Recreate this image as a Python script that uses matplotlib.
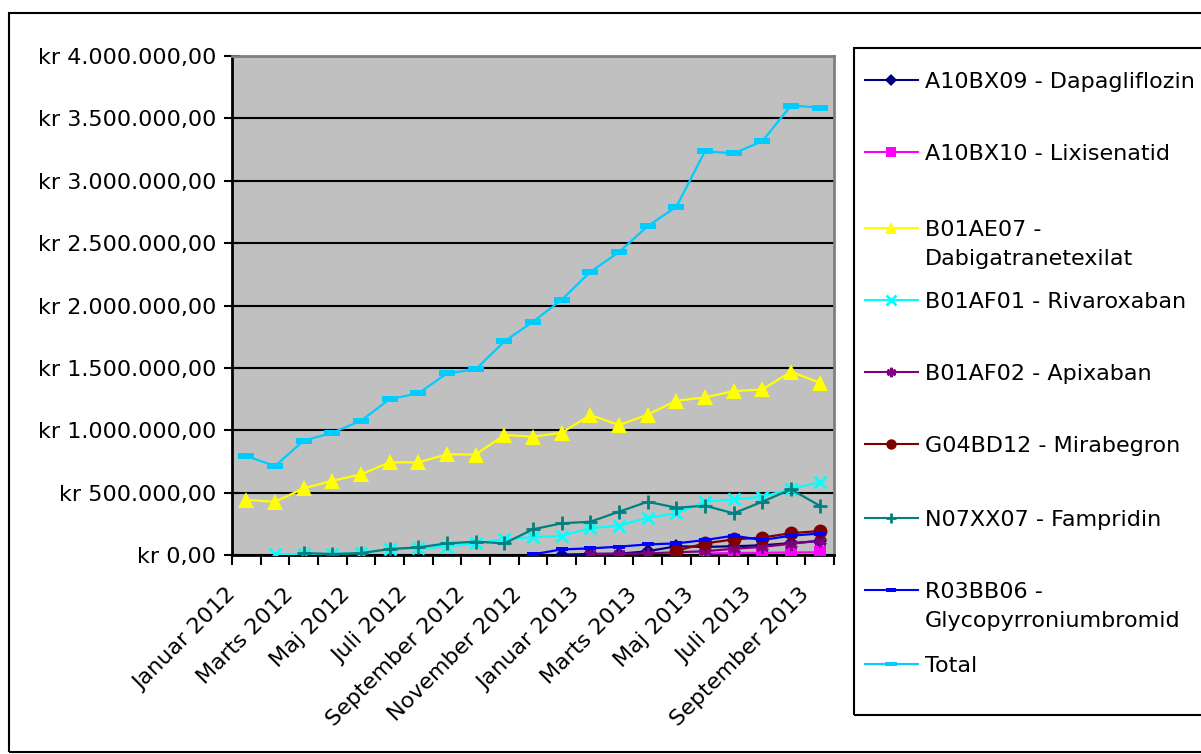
import matplotlib.pyplot as plt
import matplotlib.transforms as mtransforms
from matplotlib.lines import Line2D
from matplotlib.patches import Rectangle
from matplotlib.ticker import FuncFormatter

plt.rcParams['font.family'] = ['DejaVu Sans']

# --- data (kr per month, Januar 2012 .. September 2013) ---
months = ["Januar 2012", "Februar 2012", "Marts 2012", "April 2012", "Maj 2012",
          "Juni 2012", "Juli 2012", "August 2012", "September 2012", "Oktober 2012",
          "November 2012", "December 2012", "Januar 2013", "Februar 2013", "Marts 2013",
          "April 2013", "Maj 2013", "Juni 2013", "Juli 2013", "August 2013",
          "September 2013"]

N = None
dapagliflozin = [N] * 11 + [3000, 8000, 10000, 30000, 70000, 65000, 70000, 78000, 95000, 112000]
lixisenatid = [N] * 16 + [12000, 15000, 18000, 20000, 22000]
dabigatran = [441000, 427000, 534000, 595000, 646000, 743000, 743000, 807000, 805000,
              962000, 948000, 980000, 1122000, 1042000, 1125000, 1237000, 1263000,
              1314000, 1327000, 1469000, 1381000]
rivaroxaban = [N, 5000, 8000, 8000, 18000, 45000, 53000, 67000, 93000, 128000, 142000,
               155000, 214000, 235000, 299000, 334000, 427000, 446000, 467000, 529000, 585000]
apixaban = [N] * 12 + [8000, 10000, 12000, 22000, 30000, 50000, 65000, 90000, 115000]
mirabegron = [N] * 15 + [35000, 93000, 125000, 140000, 175000, 192000]
fampridin = [N, N, 15000, 8000, 15000, 48000, 61000, 93000, 107000, 93000, 206000,
             254000, 267000, 347000, 427000, 379000, 395000, 334000, 427000, 526000, 395000]
glycopyrronium = [N] * 10 + [5000, 45000, 53000, 67000, 85000, 93000, 120000, 155000,
                             120000, 155000, 172000]
total = [793000, 713000, 916000, 980000, 1076000, 1250000, 1296000, 1456000, 1488000,
         1712000, 1870000, 2046000, 2270000, 2428000, 2636000, 2791000, 3237000,
         3219000, 3317000, 3603000, 3587000]

labels = ["A10BX09 - Dapagliflozin", "A10BX10 - Lixisenatid",
          "B01AE07 -\nDabigatranetexilat", "B01AF01 - Rivaroxaban",
          "B01AF02 - Apixaban", "G04BD12 - Mirabegron", "N07XX07 - Fampridin",
          "R03BB06 -\nGlycopyrroniumbromid", "Total"]

rect = [(-1, -0.33), (1, -0.33), (1, 0.33), (-1, 0.33), (-1, -0.33)]
asterisk = (6, 2, 0)
series = [
    (dapagliflozin, dict(color="#000080", marker="D", ms=7.5, mew=0)),
    (lixisenatid, dict(color="#FF00FF", marker="s", ms=9, mew=0)),
    (dabigatran, dict(color="#FFFF00", marker="^", ms=12, mew=0)),
    (rivaroxaban, dict(color="#00FFFF", marker="x", ms=9, mew=2)),
    (apixaban, dict(color="#800080", marker=asterisk, ms=9, mew=2)),
    (mirabegron, dict(color="#800000", marker="o", ms=10, mew=0)),
    (fampridin, dict(color="#008080", marker="+", ms=10, mew=2)),
    (glycopyrronium, dict(color="#0000FF", marker=rect, ms=9, mew=0)),
    (total, dict(color="#00CCFF", marker=rect, ms=12, mew=0)),
]

fig = plt.figure(figsize=(12.01, 7.54), dpi=100)
W, H = 1201, 754
FS = 16


def fx(px):
    return px / W


def fy(py):
    return 1 - py / H


# outer chart border
fig.add_artist(Rectangle((fx(9), fy(752)), fx(1250), fy(13) - fy(752),
                         transform=fig.transFigure, fill=False, ec="black", lw=1.5))

ax = fig.add_axes([fx(232), fy(555), fx(834) - fx(232), fy(56) - fy(555)])
ax.set_facecolor("#C0C0C0")

x = list(range(len(months)))
for vals, st in series:
    ax.plot(x, [float("nan") if v is None else v for v in vals], lw=1.6, zorder=3, **st)

ax.set_xlim(-0.5, len(months) - 0.5)
ax.set_ylim(0, 4000000)
ax.set_yticks(range(0, 4000001, 500000))
ax.yaxis.set_major_formatter(FuncFormatter(
    lambda v, p: "kr " + f"{v:,.2f}".replace(",", "#").replace(".", ",").replace("#", ".")))
ax.grid(axis="y", color="black", lw=1.5)
ax.set_axisbelow(True)

ax.set_xticks(x[::2], months[::2])
ax.set_xticks([i - 0.5 for i in range(len(months) + 1)], minor=True)
ax.tick_params(axis="x", which="major", length=0, pad=26, labelsize=FS)
ax.tick_params(axis="x", which="minor", length=7, width=1.5, direction="out")
ax.tick_params(axis="y", length=11, width=1.5, direction="inout", pad=6, labelsize=FS)
shift = mtransforms.ScaledTranslation(-14 / 100, 0, fig.dpi_scale_trans)
for lab in ax.get_xticklabels():
    lab.set_rotation(45)
    lab.set_rotation_mode("anchor")
    lab.set_ha("right")
    lab.set_va("center")
    lab.set_transform(lab.get_transform() + shift)

for side in ["top", "right"]:
    ax.spines[side].set_color("#808080")
    ax.spines[side].set_linewidth(2)
for side in ["left", "bottom"]:
    ax.spines[side].set_color("black")
    ax.spines[side].set_linewidth(2)

# legend drawn by hand so the handle sits on the first text line
fig.add_artist(Rectangle((fx(854), fy(715)), fx(400), fy(48) - fy(715),
                         transform=fig.transFigure, fill=False, ec="black", lw=1.5))
rows = [80, 152, 228, 300, 372, 444, 518, 590, 664]
for (vals, st), lab, ry in zip(series, labels, rows):
    fig.add_artist(Line2D([fx(865), fx(918)], [fy(ry), fy(ry)], transform=fig.transFigure,
                          color=st["color"], lw=1.5))
    lst = dict(st)
    lst["ms"] = st["ms"] * 0.75
    fig.add_artist(Line2D([fx(891)], [fy(ry)], transform=fig.transFigure, ls="none", **lst))
    for k, line in enumerate(lab.split("\n")):
        fig.text(fx(925), fy(ry + 29 * k), line, fontsize=FS, va="center_baseline", ha="left")

fig.savefig("out.png", dpi=100)
